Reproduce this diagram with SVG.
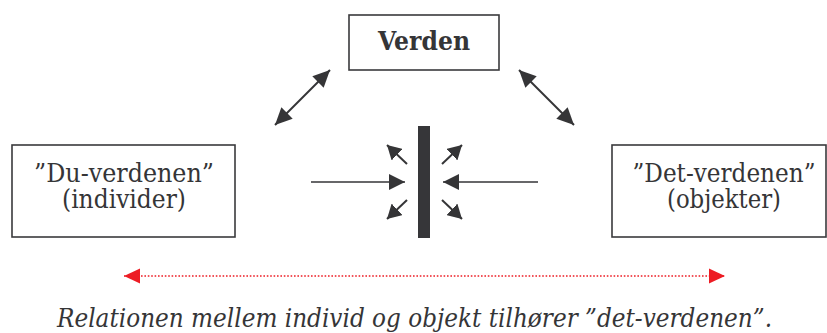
<svg xmlns="http://www.w3.org/2000/svg" width="827" height="333" viewBox="0 0 827 333">
  <style>
    .box { fill: #ffffff; stroke: #3a3a3c; stroke-width: 1.6; }
    text { font-family: "DejaVu Serif", "Liberation Serif", serif; fill: #353537; }
    .lbl { font-size: 26px; text-anchor: middle; }
    .bold { font-weight: bold; }
    .cap { font-size: 26px; font-style: italic; }
    .dbl { stroke: #353537; stroke-width: 2; fill: none; marker-start: url(#headL); marker-end: url(#headL); }
    .push { stroke: #353537; stroke-width: 1.6; fill: none; marker-end: url(#headM); }
    .burst { stroke: #353537; stroke-width: 2; fill: none; marker-end: url(#headS); }
    .rel { stroke: #ed1c24; stroke-width: 1.6; stroke-dasharray: 1.6 1.8; fill: none; marker-start: url(#headR); marker-end: url(#headR); }
  </style>
  <defs>
    <marker id="headL" markerUnits="userSpaceOnUse" markerWidth="18" markerHeight="16" refX="17" refY="8" orient="auto-start-reverse">
      <path d="M0,0 L17,8 L0,16 z" fill="#353537"/>
    </marker>
    <marker id="headM" markerUnits="userSpaceOnUse" markerWidth="17" markerHeight="16" refX="16" refY="8" orient="auto">
      <path d="M0,0 L16,8 L0,16 z" fill="#353537"/>
    </marker>
    <marker id="headS" markerUnits="userSpaceOnUse" markerWidth="15" markerHeight="16" refX="14" refY="8" orient="auto">
      <path d="M0,0 L14,8 L0,16 z" fill="#353537"/>
    </marker>
    <marker id="headR" markerUnits="userSpaceOnUse" markerWidth="17" markerHeight="16" refX="16" refY="8" orient="auto-start-reverse">
      <path d="M0,0.5 L16,8 L0,15.5 z" fill="#ed1c24"/>
    </marker>
  </defs>

  <g id="verden">
    <rect class="box" x="349" y="15" width="150" height="55"/>
    <text class="lbl bold" x="424" y="50" textLength="92" lengthAdjust="spacingAndGlyphs">Verden</text>
  </g>

  <g id="du-verdenen">
    <rect class="box" x="12" y="145" width="223" height="92"/>
    <text class="lbl" x="124" y="182" textLength="180" lengthAdjust="spacingAndGlyphs">”Du-verdenen”</text>
    <text class="lbl" x="124" y="208" textLength="124" lengthAdjust="spacingAndGlyphs">(individer)</text>
  </g>

  <g id="det-verdenen">
    <rect class="box" x="612" y="145" width="214" height="92"/>
    <text class="lbl" x="724" y="182" textLength="183" lengthAdjust="spacingAndGlyphs">”Det-verdenen”</text>
    <text class="lbl" x="724" y="208" textLength="114" lengthAdjust="spacingAndGlyphs">(objekter)</text>
  </g>

  <g id="barrier">
    <rect x="418" y="126" width="12" height="112" fill="#363639"/>
  </g>

  <g id="connectors">
    <line class="dbl" x1="330" y1="70" x2="275" y2="125"/>
    <line class="dbl" x1="519" y1="70" x2="574" y2="125"/>
    <line class="push" x1="311" y1="182" x2="405" y2="182"/>
    <line class="push" x1="538" y1="182" x2="443" y2="182"/>
    <line class="burst" x1="407" y1="164" x2="387" y2="145"/>
    <line class="burst" x1="442" y1="164" x2="462" y2="145"/>
    <line class="burst" x1="407" y1="200" x2="387" y2="219"/>
    <line class="burst" x1="442" y1="200" x2="462" y2="219"/>
    <line class="rel" x1="124" y1="276" x2="725" y2="276"/>
  </g>

  <text class="cap" x="57" y="327" textLength="715" lengthAdjust="spacingAndGlyphs">Relationen mellem individ og objekt tilhører ”det-verdenen”.</text>
</svg>
